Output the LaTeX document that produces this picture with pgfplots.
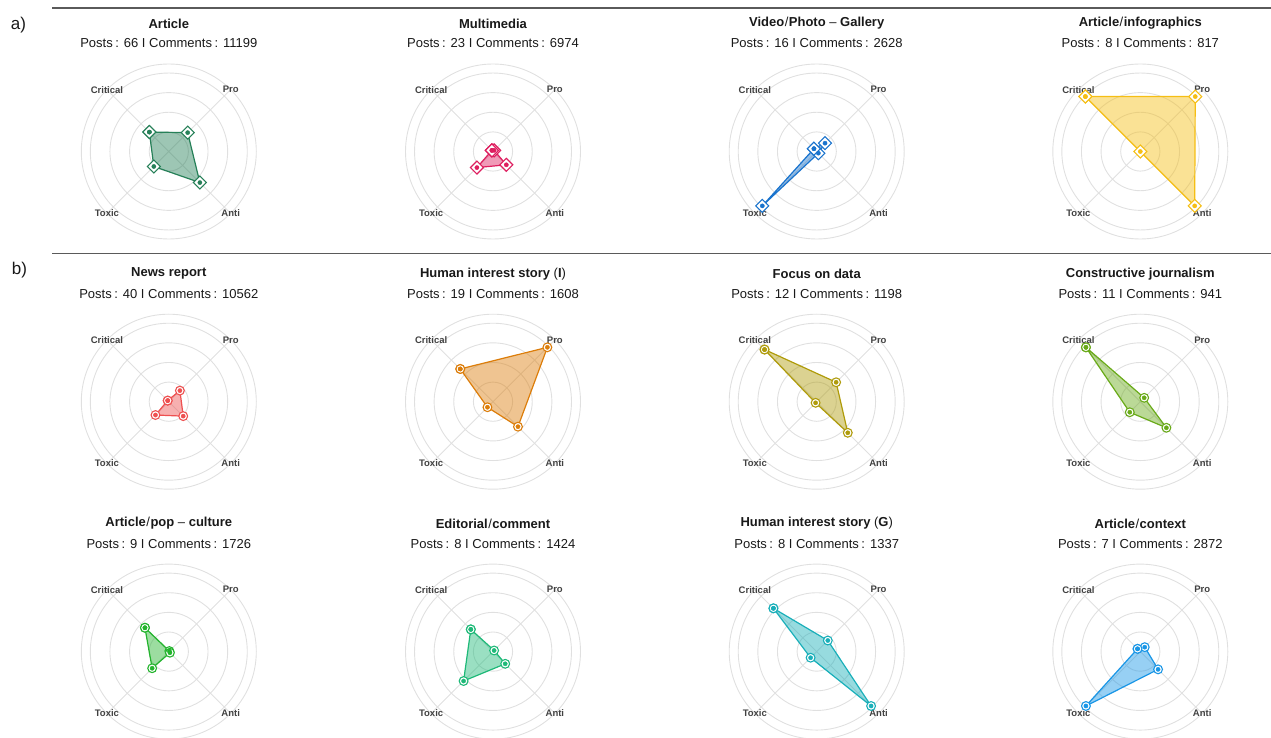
\documentclass[border=0pt]{standalone}
\usepackage{fontspec}
\setmainfont{Liberation Sans}
\usepackage{pgfplots}
\pgfplotsset{compat=1.18}
\usepgfplotslibrary{polar}
\usetikzlibrary{calc}

\definecolor{gridc}{RGB}{224,224,224}
\definecolor{labc}{RGB}{65,65,65}
\definecolor{titc}{RGB}{25,25,25}
\definecolor{rulec}{RGB}{90,90,90}
\definecolor{c1}{RGB}{38,128,88}
\definecolor{c2}{RGB}{222,30,95}
\definecolor{c3}{RGB}{25,115,205}
\definecolor{c4}{RGB}{245,190,20}
\definecolor{c5}{RGB}{238,80,80}
\definecolor{c6}{RGB}{220,125,10}
\definecolor{c7}{RGB}{175,155,10}
\definecolor{c8}{RGB}{105,170,25}
\definecolor{c9}{RGB}{35,180,45}
\definecolor{c10}{RGB}{30,185,120}
\definecolor{c11}{RGB}{25,175,185}
\definecolor{c12}{RGB}{25,150,230}

\pgfplotsset{
  outmark diamond/.style={mark=square*, mark size=4.6pt, mark options={rotate=45, fill=white, draw=#1, line width=1.1pt, solid}},
  outmark circle/.style={mark=*, mark size=4.4pt, mark options={fill=white, draw=#1, line width=1.1pt, solid}},
}

\newcommand{\lab}[2]{\node[font=\fontsize{9.5}{11}\selectfont\bfseries, text=labc] at (axis cs:#1,1.115) {#2};}

% #1 x (pt), #2 y (pt, from bottom), #3 colour, #4 marker, #5 title, #6 subtitle, #7 coordinates
\newcommand{\radar}[7]{%
  \begin{polaraxis}[
    at={(#1pt,#2pt)}, anchor=center,
    scale only axis, width=175pt, height=175pt,
    xmin=0, xmax=360, ymin=0, ymax=1.115,
    xtick={45,135,225,315}, ytick={0.25,0.5,0.75,1},
    xticklabels={}, yticklabels={},
    grid=major, major grid style={draw=gridc, line width=0.9pt},
    x axis line style={draw=gridc, line width=0.9pt},
    y axis line style={draw=none},
    major tick length=0pt,
    clip=false,
  ]
    \lab{135}{Critical}
    \lab{45}{Pro}
    \lab{225}{Toxic}
    \lab{315}{Anti}
    \addplot[draw=#3, line width=1.2pt, fill=#3, fill opacity=0.45] coordinates {#7};
    \addplot[only marks, outmark #4=#3] coordinates {#7};
    \addplot[only marks, mark=*, mark size=2.1pt, mark options={fill=#3, draw=#3}] coordinates {#7};
  \end{polaraxis}
  \node[font=\fontsize{13}{15}\selectfont\bfseries, text=titc] at ($(#1pt,#2pt)+(0pt,128pt)$) {#5};
  \node[font=\fontsize{13}{15}\selectfont, text=titc] at ($(#1pt,#2pt)+(0pt,108pt)$) {#6};
}
\newcommand{\sub}[2]{Posts\kern2.5pt:\kern5pt #1 I Comments\kern2.5pt:\kern5pt #2}
\newcommand{\sla}{\kern0.5pt{\mdseries/}\kern0.5pt}

\begin{document}
\begin{tikzpicture}
\path[use as bounding box] (0pt,0pt) rectangle (1271pt,737pt);
\draw[line width=1.3pt, rulec] (52pt,729pt) -- (1271pt,729pt);
\draw[line width=1.3pt, rulec] (52pt,483.7pt) -- (1271pt,483.7pt);
\node[font=\fontsize{17}{20}\selectfont, text=titc] at (18.5pt,712pt) {a)};
\node[font=\fontsize{17}{20}\selectfont, text=titc] at (19.5pt,466.5pt) {b)};

% Row a)
\radar{168.8}{585.5}{c1}{diamond}{Article}{\sub{66}{11199}}
  {(135,0.35) (45,0.34) (315,0.56) (225,0.27) (135,0.35)}
\radar{493}{585.5}{c2}{diamond}{Multimedia}{\sub{23}{6974}}
  {(135,0.02) (45,0.02) (315,0.24) (225,0.29) (135,0.02)}
\radar{816.7}{585.5}{c3}{diamond}{Video\sla Photo {\mdseries –} Gallery}{\sub{16}{2628}}
  {(135,0.05) (45,0.15) (315,0.03) (225,0.98) (135,0.05)}
\radar{1140.3}{585.5}{c4}{diamond}{Article\sla infographics}{\sub{8}{817}}
  {(135,0.99) (45,0.99) (315,0.98) (225,0.0) (135,0.99)}

% Row b) first
\radar{168.8}{335.3}{c5}{circle}{News report}{\sub{40}{10562}}
  {(135,0.02) (45,0.20) (315,0.26) (225,0.24) (135,0.02)}
\radar{493}{335.3}{c6}{circle}{Human interest story {\mdseries(}I{\mdseries)}}{\sub{19}{1608}}
  {(135,0.59) (45,0.98) (315,0.45) (225,0.10) (135,0.59)}
\radar{816.7}{335.3}{c7}{circle}{Focus on data}{\sub{12}{1198}}
  {(135,0.94) (45,0.35) (315,0.56) (225,0.02) (135,0.94)}
\radar{1140.3}{335.3}{c8}{circle}{Constructive journalism}{\sub{11}{941}}
  {(135,0.98) (45,0.07) (315,0.47) (225,0.19) (135,0.98)}

% Row b) second
\radar{168.8}{85.4}{c9}{circle}{Article\sla pop {\mdseries –} culture}{\sub{9}{1726}}
  {(135,0.43) (45,0.01) (315,0.02) (225,0.30) (135,0.43)}
\radar{493}{85.4}{c10}{circle}{Editorial\sla comment}{\sub{8}{1424}}
  {(135,0.40) (45,0.02) (315,0.22) (225,0.53) (135,0.40)}
\radar{816.7}{85.4}{c11}{circle}{Human interest story {\mdseries(}G{\mdseries)}}{\sub{8}{1337}}
  {(135,0.78) (45,0.20) (315,0.98) (225,0.11) (135,0.78)}
\radar{1140.3}{85.4}{c12}{circle}{Article\sla context}{\sub{7}{2872}}
  {(135,0.05) (45,0.08) (315,0.32) (225,0.98) (135,0.05)}
\end{tikzpicture}
\end{document}
